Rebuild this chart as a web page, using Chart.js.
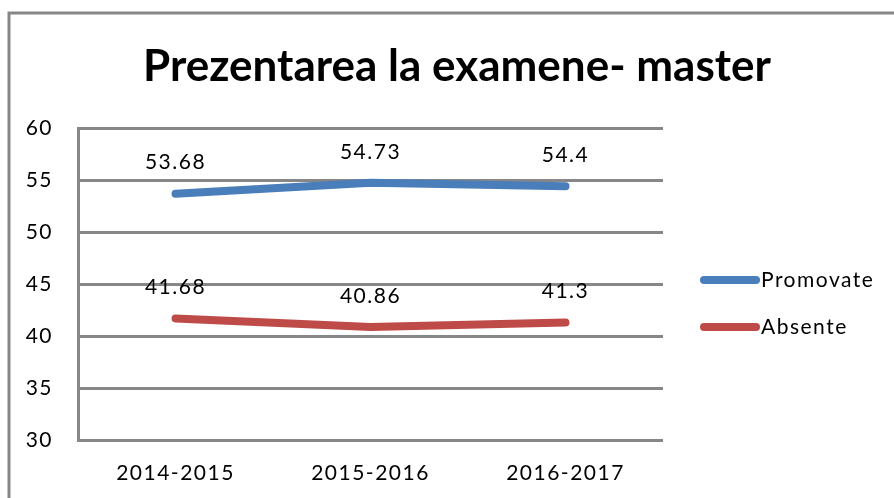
<!DOCTYPE html>
<html lang="ro">
<head>
<meta charset="UTF-8" />
<title>Prezentarea la examene- master</title>
<script src="https://cdn.jsdelivr.net/npm/chart.js@4.4.0/dist/chart.umd.min.js"></script>
<style>
  html, body { margin: 0; padding: 0; background: #fff; }
  #wrap { width: 894px; height: 498px; }
</style>
</head>
<body>
<div id="wrap"><canvas id="c" width="894" height="498"></canvas></div>
<script>
// data
const years = ['2014-2015', '2015-2016', '2016-2017'];
const promovate = [53.68, 54.73, 54.4];
const absente = [41.68, 40.86, 41.3];
const seriesNames = ['Promovate', 'Absente'];
const seriesColors = ['#4A7EBB', '#BE4B48'];
const chartTitle = 'Prezentarea la examene- master';

const FONT = 'Lato, "Open Sans", sans-serif';
const GRID = '#878787';

// frame, title, value labels and legend
const decor = {
  id: 'decor',
  beforeDraw(chart) {
    const ctx = chart.ctx;
    ctx.save();
    ctx.strokeStyle = GRID;
    ctx.lineWidth = 3;
    ctx.beginPath();
    ctx.moveTo(9, 498);
    ctx.lineTo(9, 13);
    ctx.lineTo(894, 13);
    ctx.stroke();
    ctx.restore();
    // the original text is set wide
    ctx.letterSpacing = '1.5px';
  },
  afterDatasetsDraw(chart) {
    const ctx = chart.ctx;
    ctx.save();
    ctx.fillStyle = '#000';
    ctx.letterSpacing = '0px';
    ctx.font = 'bold 44px ' + FONT;
    ctx.textAlign = 'center';
    ctx.textBaseline = 'middle';
    ctx.fillText(chartTitle, 457, 67);

    ctx.letterSpacing = '1.5px';
    ctx.font = '21px ' + FONT;
    chart.data.datasets.forEach((ds, i) => {
      const meta = chart.getDatasetMeta(i);
      meta.data.forEach((pt, j) => {
        ctx.fillText(String(ds.data[j]), pt.x, pt.y - 31);
      });
    });

    // legend
    const ly = [280, 327];
    ctx.textAlign = 'left';
    chart.data.datasets.forEach((ds, i) => {
      ctx.strokeStyle = ds.borderColor;
      ctx.lineWidth = 8;
      ctx.lineCap = 'round';
      ctx.beginPath();
      ctx.moveTo(704, ly[i]);
      ctx.lineTo(756, ly[i]);
      ctx.stroke();
      ctx.fillStyle = '#000';
      ctx.fillText(ds.label, 761, ly[i]);
    });
    ctx.restore();
  }
};

new Chart(document.getElementById('c'), {
  type: 'line',
  data: {
    labels: years,
    datasets: [
      { label: seriesNames[0], data: promovate, borderColor: seriesColors[0] },
      { label: seriesNames[1], data: absente, borderColor: seriesColors[1] }
    ]
  },
  options: {
    responsive: false,
    animation: false,
    devicePixelRatio: 1,
    layout: { padding: { top: 128, right: 231, left: 0, bottom: 0 } },
    elements: {
      line: { borderWidth: 8, tension: 0, borderCapStyle: 'round', borderJoinStyle: 'round' },
      point: { radius: 0, hoverRadius: 0 }
    },
    plugins: { legend: { display: false }, title: { display: false }, tooltip: { enabled: false } },
    scales: {
      x: {
        offset: true,
        grid: { display: false, drawTicks: false },
        border: { display: false },
        ticks: { color: '#000', font: { family: FONT, size: 21 }, padding: 21 },
        afterFit(s) { s.height = 58; }
      },
      y: {
        min: 30, max: 60,
        grid: { color: GRID, lineWidth: 3, drawTicks: false },
        border: { color: GRID, width: 3 },
        ticks: { stepSize: 5, color: '#000', font: { family: FONT, size: 21 }, padding: 25 },
        afterFit(s) { s.width = 78; }
      }
    }
  },
  plugins: [decor]
});
</script>
</body>
</html>
